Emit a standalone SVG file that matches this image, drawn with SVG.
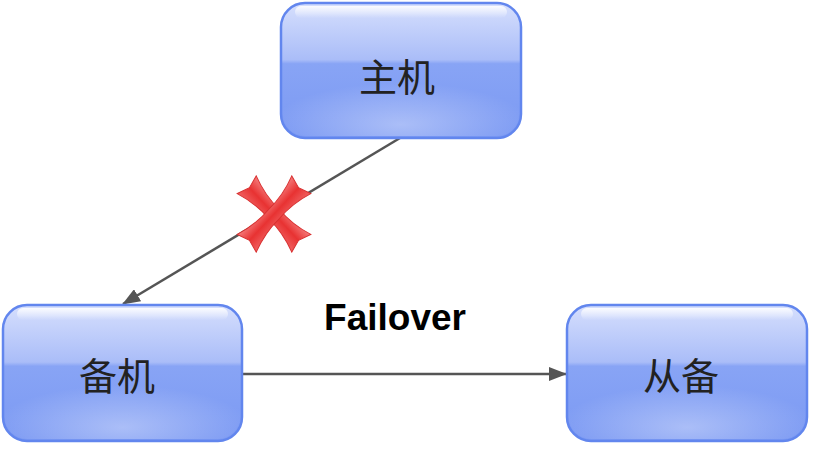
<svg xmlns="http://www.w3.org/2000/svg" width="820" height="454" viewBox="0 0 820 454">
<defs>
<linearGradient id="boxg" x1="0" y1="0" x2="0" y2="1">
<stop offset="0" stop-color="#d6dffd"/>
<stop offset="0.42" stop-color="#aabdf8"/>
<stop offset="0.45" stop-color="#88a4f5"/>
<stop offset="1" stop-color="#7b99f3"/>
</linearGradient>
<radialGradient id="glow" cx="0.5" cy="0.85" r="0.55">
<stop offset="0" stop-color="#ffffff" stop-opacity="0.35"/>
<stop offset="1" stop-color="#ffffff" stop-opacity="0"/>
</radialGradient>
<linearGradient id="hl" x1="0" y1="0" x2="0" y2="1">
<stop offset="0" stop-color="#ffffff" stop-opacity="0.9"/>
<stop offset="1" stop-color="#ffffff" stop-opacity="0"/>
</linearGradient>
<linearGradient id="redg" x1="0" y1="0" x2="0" y2="1">
<stop offset="0" stop-color="#f57c7c"/>
<stop offset="0.5" stop-color="#e83232"/>
<stop offset="1" stop-color="#f06060"/>
</linearGradient>
<marker id="arr2" markerWidth="18" markerHeight="14" refX="17" refY="7" orient="auto" markerUnits="userSpaceOnUse" viewBox="0 0 18 14">
<path d="M0,0 L18,7 L0,14 Z" fill="#555"/>
</marker>
</defs>
<style>
.box{fill:url(#boxg);stroke:#6286ee;stroke-width:2.5}
.glow{fill:url(#glow)}
.hl{fill:url(#hl)}
.lbl{font-family:"Noto Sans CJK SC","Liberation Sans",sans-serif;font-size:38px;fill:#222;text-anchor:middle;dominant-baseline:central}
.edge{stroke:#555;stroke-width:2.5;fill:none}
.el{font-family:"Liberation Sans",Arial,sans-serif;font-weight:bold;font-size:37px;fill:#000;text-anchor:middle}
</style>
<rect width="820" height="454" fill="#fff"/>
<g id="edges">
<line class="edge" x1="400" y1="138" x2="123" y2="304" marker-end="url(#arr2)"/>
<line class="edge" x1="242" y1="374" x2="566" y2="374" marker-end="url(#arr2)"/>
<text class="el" x="395" y="330">Failover</text>
<g id="cross" transform="translate(274,214)">
<path d="M-40,-13 Q-20,-6 0,-7 Q20,-6 40,-13 L36,0 L40,13 Q20,6 0,7 Q-20,6 -40,13 L-36,0 Z" transform="rotate(47)" fill="url(#redg)" stroke="#d83030" stroke-width="1"/>
<path d="M-40,-13 Q-20,-6 0,-7 Q20,-6 40,-13 L36,0 L40,13 Q20,6 0,7 Q-20,6 -40,13 L-36,0 Z" transform="rotate(-47)" fill="url(#redg)" stroke="#d83030" stroke-width="1"/>
</g>
</g>
<g id="node-main">
<rect class="box" x="281" y="3" width="240" height="135" rx="24"/>
<rect class="glow" x="283" y="60" width="236" height="76" rx="22"/>
<rect class="hl" x="295" y="6" width="212" height="12" rx="6"/>
<text class="lbl" x="397" y="74">主机</text>
</g>
<g id="node-standby">
<rect class="box" x="3" y="305" width="239" height="136" rx="24"/>
<rect class="glow" x="5" y="362" width="235" height="77" rx="22"/>
<rect class="hl" x="17" y="308" width="211" height="12" rx="6"/>
<text class="lbl" x="117" y="373">备机</text>
</g>
<g id="node-slave">
<rect class="box" x="567" y="305" width="240" height="136" rx="24"/>
<rect class="glow" x="569" y="362" width="236" height="77" rx="22"/>
<rect class="hl" x="581" y="308" width="212" height="12" rx="6"/>
<text class="lbl" x="681" y="373">从备</text>
</g>
</svg>
